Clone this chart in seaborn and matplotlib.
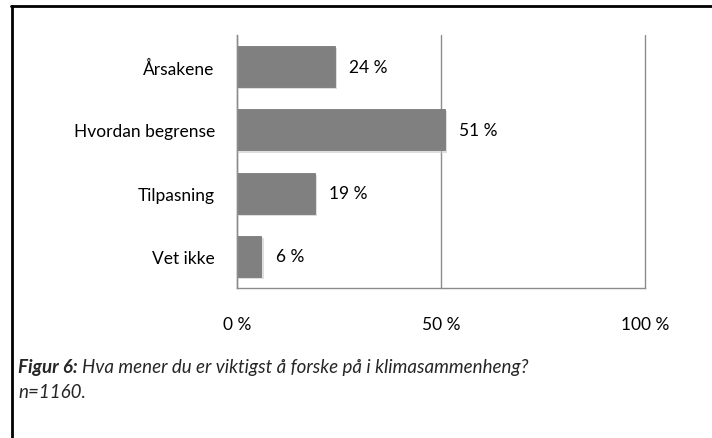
import matplotlib
matplotlib.use("Agg")
import matplotlib.pyplot as plt
import matplotlib.patheffects as pe
import seaborn as sns
import pandas as pd

categories = ["Årsakene", "Hvordan begrense", "Tilpasning", "Vet ikke"]
values = [24, 51, 19, 6]
xticks = [0, 50, 100]
xtick_labels = ["0 %", "50 %", "100 %"]

sns.set_theme(style="white")
plt.rcParams["font.family"] = ["Lato", "DejaVu Sans"]

df = pd.DataFrame({"cat": categories, "val": values})

fig = plt.figure(figsize=(7.12, 4.39), dpi=100)
ax = fig.add_axes([237 / 712, 1 - 289 / 439, (645 - 237) / 712, (289 - 36) / 439])

sns.barplot(data=df, x="val", y="cat", orient="h", color="#808080",
            saturation=1, width=0.65, edgecolor="#7a7a7a", linewidth=0.6, ax=ax)
for p in ax.patches:
    p.set_path_effects([pe.SimplePatchShadow(offset=(1.5, -1.5), shadow_rgbFace="#c8c8c8", alpha=0.6),
                        pe.Normal()])

fs = 12.5
ax.set_xlim(0, 100)
ax.set_ylim(3.5, -0.5)
ax.set_xticks(xticks)
ax.set_xticklabels(xtick_labels, fontsize=fs, color="black")
ax.xaxis.grid(True, color="#8c8c8c", linewidth=1)
for gl in ax.get_xgridlines():
    gl.set_clip_on(False)
ax.set_axisbelow(True)
ax.set_xlabel("")
ax.set_ylabel("")
for s in ["top", "right"]:
    ax.spines[s].set_visible(False)
for s in ["left", "bottom"]:
    ax.spines[s].set_color("#8c8c8c")
    ax.spines[s].set_linewidth(1)

# y ticks: labels at centers, tick marks at boundaries
ax.set_yticks(range(len(categories)))
ax.set_yticklabels(categories, fontsize=fs, color="black")
ax.tick_params(axis="y", length=0, pad=16)
ax.set_yticks([-0.5, 0.5, 1.5, 2.5, 3.5], minor=True)
ax.tick_params(axis="y", which="minor", length=4, color="#8c8c8c", width=1, direction="out")
ax.tick_params(axis="x", length=4, color="#8c8c8c", width=1, direction="out", pad=16)

for i, v in enumerate(values):
    ax.text(v + 3.5, i, f"{v} %", va="center", ha="left", fontsize=fs, color="black")

# figure border (left and top)
fig.add_artist(plt.Line2D([12 / 712, 12 / 712], [0, 1 - 6.5 / 439], transform=fig.transFigure,
                          color="black", linewidth=2))
fig.add_artist(plt.Line2D([11 / 712, 1], [1 - 6.5 / 439, 1 - 6.5 / 439], transform=fig.transFigure,
                          color="black", linewidth=2))

# caption
cfs = 13.5
t1 = fig.text(18 / 712, 1 - 367 / 439, "Figur 6:", fontsize=cfs, fontweight="bold",
              fontstyle="italic", va="center", ha="left")
fig.canvas.draw()
bb = t1.get_window_extent()
fig.text((bb.x1 + 4) / 712, 1 - 367 / 439,
         "Hva mener du er viktigst å forske på i klimasammenheng?", fontsize=cfs,
         fontstyle="italic", va="center", ha="left")
fig.text(18 / 712, 1 - 393 / 439, "n=1160.", fontsize=cfs, fontstyle="italic",
         va="center", ha="left")

fig.savefig("out.png", dpi=100)
